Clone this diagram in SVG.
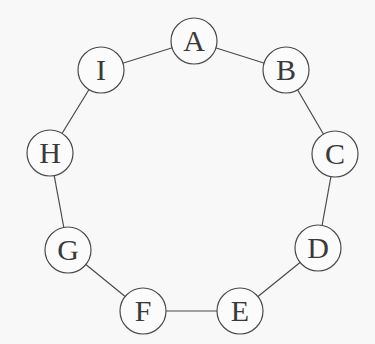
<svg xmlns="http://www.w3.org/2000/svg" width="375" height="344" viewBox="0 0 375 344">
<style>
.n circle{fill:#fbfbfb;stroke:#4a4a4a;stroke-width:1.2}
.n text{font-family:"Liberation Serif","DejaVu Serif",serif;font-size:30px;fill:#3a3a3a;text-anchor:middle}
#edges line{stroke:#4a4a4a;stroke-width:1.2}
</style>
<rect width="375" height="344" fill="#f8f8f8"/>
<g id="edges">
<line x1="194" y1="41" x2="286" y2="70"/>
<line x1="286" y1="70" x2="335" y2="154"/>
<line x1="335" y1="154" x2="318" y2="248"/>
<line x1="318" y1="248" x2="240" y2="311"/>
<line x1="240" y1="311" x2="143" y2="311"/>
<line x1="143" y1="311" x2="68" y2="250"/>
<line x1="68" y1="250" x2="50" y2="153"/>
<line x1="50" y1="153" x2="101" y2="70"/>
<line x1="101" y1="70" x2="194" y2="41"/>
</g>
<g id="A" class="n"><circle cx="194" cy="41" r="23"/><text x="194" y="51">A</text></g>
<g id="B" class="n"><circle cx="286" cy="70" r="23"/><text x="286" y="80">B</text></g>
<g id="C" class="n"><circle cx="335" cy="154" r="23"/><text x="335" y="164">C</text></g>
<g id="D" class="n"><circle cx="318" cy="248" r="23"/><text x="318" y="258">D</text></g>
<g id="E" class="n"><circle cx="240" cy="311" r="23"/><text x="240" y="321">E</text></g>
<g id="F" class="n"><circle cx="143" cy="311" r="23"/><text x="143" y="321">F</text></g>
<g id="G" class="n"><circle cx="68" cy="250" r="23"/><text x="68" y="260">G</text></g>
<g id="H" class="n"><circle cx="50" cy="153" r="23"/><text x="50" y="163">H</text></g>
<g id="I" class="n"><circle cx="101" cy="70" r="23"/><text x="101" y="80">I</text></g>
</svg>
